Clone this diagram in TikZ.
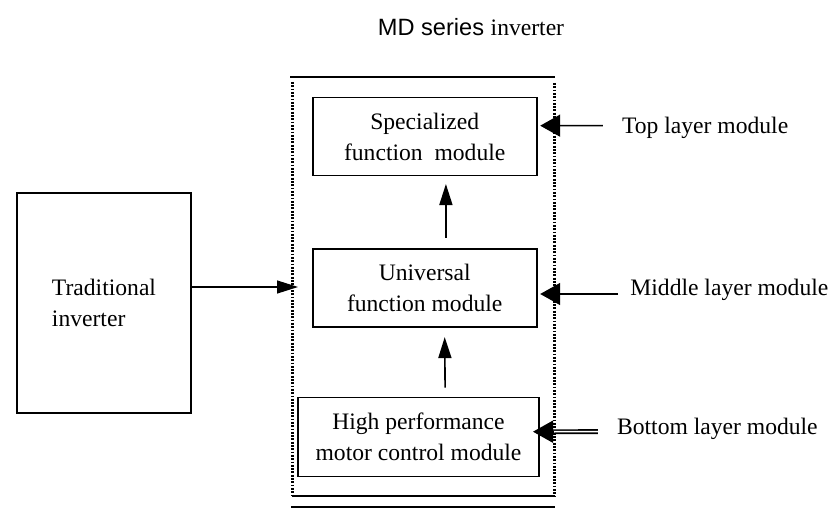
\documentclass[tikz,border=0pt]{standalone}
\usepackage{fontspec}
\setmainfont{Liberation Serif}
\newfontfamily\arialfont{Liberation Sans}
\usetikzlibrary{arrows.meta}

\tikzset{
  modbox/.style={draw, line width=0.9pt, minimum width=112pt, minimum height=39pt, align=center, inner sep=0pt},
  lbl/.style={anchor=west, inner sep=0pt},
  upar/.style={line width=0.8pt, -{Triangle[length=10.5pt,width=6.5pt]}},
  sidear/.style={line width=0.8pt, -{Triangle[length=10pt,width=11pt]}},
  dotline/.style={line width=1.5pt, dash pattern=on 0.9pt off 0.75pt},
}

\begin{document}
\begin{tikzpicture}[x=0.5pt,y=-0.5pt,font=\fontsize{11.8}{15.5}\selectfont]
\useasboundingbox (0,0) rectangle (833,508);
% title over the frame
\node (title) at (471,27) {\arialfont MD series \rmfamily inverter};
% frame of the MD inverter: solid top and bottom, dotted sides
\draw[line width=1pt] (290,77) -- (555,77);
\draw[dotline] (292,82) -- (292,496);
\draw[dotline] (554,83) -- (554,496);
\draw[line width=1pt] (292,496) -- (555,496);
\draw[line width=1pt] (291,507) -- (555,507);
% the three modules
\node[modbox] (spec) at (424.7,136.5) {Specialized\\function\ \ module};
\node[modbox] (univ) at (424.7,288) {Universal\\function module};
\node[modbox, minimum width=120.5pt, minimum height=39.5pt] (high) at (418.5,437) {High performance\\motor control module};
% old inverter on the left
\node[draw, line width=0.9pt, minimum width=87pt, minimum height=110pt, align=left] (trad) at (104,303) {Traditional\\inverter};
\coordinate (inmark) at (298,287);
\draw[line width=0.6pt, -{Triangle[length=10.5pt,width=6.5pt]}] (trad.east |- inmark) -- (inmark);
% upward flow between modules
\draw[upar] ([xshift=10.6pt,yshift=5.2pt]univ.north) -- ([xshift=10.6pt,yshift=-3.8pt]spec.south);
\draw[upar] ([xshift=13.3pt,yshift=4.5pt]high.north) -- ([xshift=10pt,yshift=-4.6pt]univ.south);
% layer labels on the right
\node[lbl] (toplbl) at (621.7,128) {Top layer module};
\node[lbl] (midlbl) at (630,290) {Middle layer module};
\node[lbl] (botlbl) at (616.7,429) {Bottom layer module};
\draw[sidear] ([xshift=-9.4pt,yshift=1.2pt]toplbl.west) -- ([xshift=1.3pt,yshift=5.4pt]spec.east);
\draw[sidear] ([xshift=-6pt,yshift=-2pt]midlbl.west) -- ([xshift=1.3pt,yshift=-3pt]univ.east);
\coordinate (bottip) at (533,431.7);
\draw[line width=0.8pt, double, double distance=0.8pt] ([xshift=-9.4pt,yshift=-1.3pt]botlbl.west) -- ([xshift=9pt]bottip);
\draw[sidear] ([xshift=10pt]bottip) -- (bottip);
\end{tikzpicture}
\end{document}
